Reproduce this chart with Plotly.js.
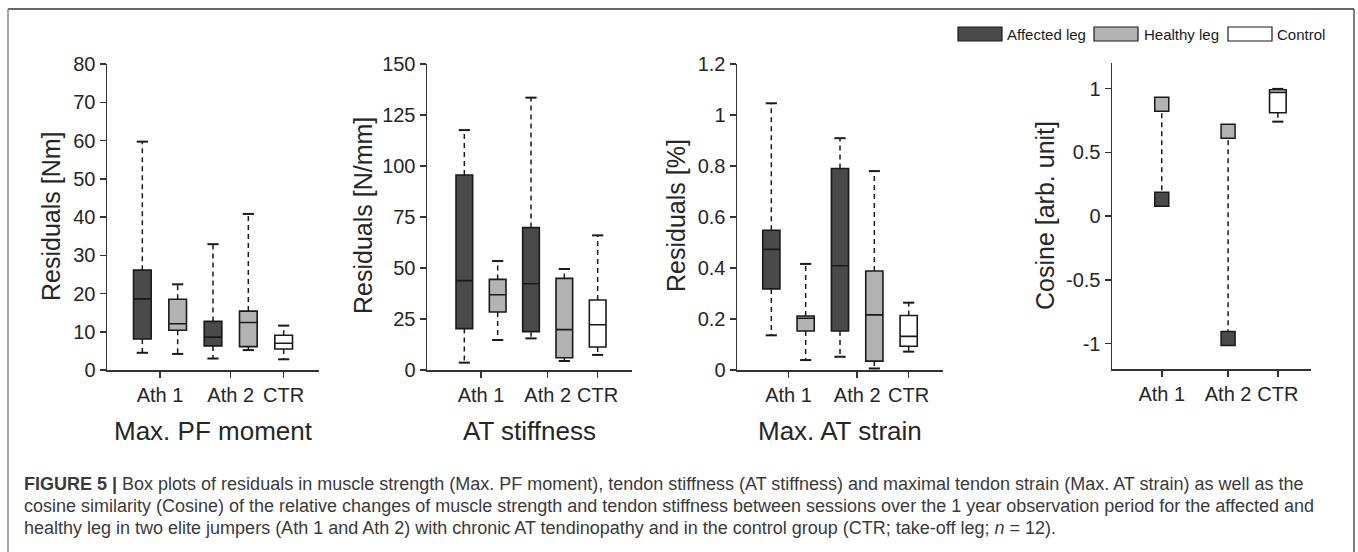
<!DOCTYPE html>
<html>
<head>
<meta charset="utf-8">
<script src="https://cdn.plot.ly/plotly-3.0.1.min.js"></script>
<style>
  html, body { margin: 0; padding: 0; background: #ffffff; }
  #chart { width: 1358px; height: 552px; }
</style>
</head>
<body>
<div id="chart"></div>
<script>
// ---------------- DATA ----------------
// order of boxes: Ath 1 affected, Ath 1 healthy, Ath 2 affected, Ath 2 healthy, CTR
const boxGroups = ['Affected leg', 'Healthy leg', 'Affected leg', 'Healthy leg', 'Control'];
const tickLabels = ['Ath 1', 'Ath 2', 'CTR'];

// Max. PF moment residuals [Nm]
const pfLow  = [4.5, 4.2, 3.0, 5.2, 2.8];
const pfQ1   = [8.1, 10.4, 6.3, 6.1, 5.5];
const pfMed  = [18.6, 12.1, 8.6, 12.4, 7.0];
const pfQ3   = [26.1, 18.5, 12.7, 15.4, 9.1];
const pfHigh = [59.7, 22.4, 32.9, 40.8, 11.6];

// AT stiffness residuals [N/mm]
const stLow  = [3.6, 14.7, 15.5, 4.4, 7.4];
const stQ1   = [20.3, 28.4, 18.8, 6.0, 11.3];
const stMed  = [43.8, 36.9, 42.3, 19.8, 22.2];
const stQ3   = [95.6, 44.4, 69.8, 44.9, 34.3];
const stHigh = [117.6, 53.4, 133.5, 49.5, 66.0];

// Max. AT strain residuals [%]
const snLow  = [0.136, 0.039, 0.052, 0.006, 0.072];
const snQ1   = [0.318, 0.153, 0.153, 0.035, 0.093];
const snMed  = [0.473, 0.203, 0.409, 0.216, 0.132];
const snQ3   = [0.548, 0.212, 0.790, 0.388, 0.214];
const snHigh = [1.046, 0.416, 0.909, 0.780, 0.264];

// Cosine similarity [arb. unit]
const cosAthletes = ['Ath 1', 'Ath 2'];
const cosAffected = [0.131, -0.961];
const cosHealthy  = [0.877, 0.665];
const cosCtrLow  = [0.74];
const cosCtrQ1   = [0.81];
const cosCtrMed  = [0.97];
const cosCtrQ3   = [0.99];
const cosCtrHigh = [0.997];

const panelTitles = ['Max. PF moment', 'AT stiffness', 'Max. AT strain'];
const yTitles = ['Residuals [Nm]', 'Residuals [N/mm]', 'Residuals [%]', 'Cosine [arb. unit]'];
const legendNames = ['Affected leg', 'Healthy leg', 'Control'];

// ---------------- STYLE ----------------
const W = 1358, H = 552;
const FONT = 'Liberation Sans, Arial, Helvetica, sans-serif';
const groupFill = {'Affected leg': '#4a4a4a', 'Healthy leg': '#b3b3b3', 'Control': '#ffffff'};
const INK = '#1a1a1a';
const AX = '#333333';
const px = v => v / W;
const py = v => 1 - v / H;

const boxPos = boxGroups.map((g, i) => i + 1);
const tickPos = [(boxPos[0] + boxPos[1]) / 2, (boxPos[2] + boxPos[3]) / 2, boxPos[4]];

const panels = [
  {low: pfLow, q1: pfQ1, med: pfMed, q3: pfQ3, high: pfHigh, xd: [107, 319], xr: [0, 6], yr: [0, 80], dtick: 10},
  {low: stLow, q1: stQ1, med: stMed, q3: stQ3, high: stHigh, xd: [427, 632], xr: [-0.12, 6.03], yr: [0, 150], dtick: 25},
  {low: snLow, q1: snQ1, med: snMed, q3: snQ3, high: snHigh, xd: [737, 943], xr: [0, 6], yr: [0, 1.2], dtick: 0.2}
];
const yTop = 64, yBot = 370;

const traces = [];
const layout = {
  width: W, height: H,
  margin: {l: 0, r: 0, t: 0, b: 0, pad: 0},
  paper_bgcolor: '#ffffff', plot_bgcolor: 'rgba(0,0,0,0)',
  showlegend: false,
  font: {family: FONT, color: '#262626'},
  annotations: [], shapes: []
};

function axisCommon() {
  return {
    showline: true, linecolor: AX, linewidth: 1.5,
    ticks: 'outside', ticklen: 6, tickwidth: 1.5, tickcolor: AX,
    showgrid: false, zeroline: false, fixedrange: true,
    tickfont: {family: FONT, size: 20, color: '#262626'}
  };
}

function addWhiskers(xs, low, q1, q3, high, xa, ya) {
  const wx = [], wy = [];
  xs.forEach((x, i) => {
    wx.push(x, x, null, x, x, null);
    wy.push(q3[i], high[i], null, q1[i], low[i], null);
  });
  traces.push({type: 'scatter', mode: 'lines', x: wx, y: wy, xaxis: xa, yaxis: ya,
    line: {color: INK, width: 1.5, dash: '5px,4px'}, hoverinfo: 'skip'});
  const cx = [], cy = [];
  xs.forEach((x, i) => { cx.push(x, x); cy.push(high[i], low[i]); });
  traces.push({type: 'scatter', mode: 'markers', x: cx, y: cy, xaxis: xa, yaxis: ya,
    marker: {symbol: 'line-ew', size: 8, line: {color: INK, width: 2}}, hoverinfo: 'skip'});
}

function addBoxes(xs, q1, med, q3, fill, xa, ya) {
  traces.push({type: 'box', x: xs, q1: q1, median: med, q3: q3,
    lowerfence: q1, upperfence: q3, width: 0.5, whiskerwidth: 0,
    xaxis: xa, yaxis: ya, fillcolor: fill, line: {color: INK, width: 1.6},
    boxpoints: false, hoverinfo: 'skip'});
}

panels.forEach((p, k) => {
  const n = k + 1;
  const xa = 'x' + (n === 1 ? '' : n), ya = 'y' + (n === 1 ? '' : n);
  addWhiskers(boxPos, p.low, p.q1, p.q3, p.high, xa, ya);
  legendNames.forEach(g => {
    const idx = boxGroups.map((b, i) => b === g ? i : -1).filter(i => i >= 0);
    addBoxes(idx.map(i => boxPos[i]), idx.map(i => p.q1[i]), idx.map(i => p.med[i]),
             idx.map(i => p.q3[i]), groupFill[g], xa, ya);
  });
  const xk = 'xaxis' + (n === 1 ? '' : n), yk = 'yaxis' + (n === 1 ? '' : n);
  layout[xk] = Object.assign(axisCommon(), {
    domain: [px(p.xd[0]), px(p.xd[1])], range: p.xr, anchor: ya,
    tickmode: 'array', tickvals: tickPos, ticktext: tickLabels
  });
  layout[yk] = Object.assign(axisCommon(), {
    domain: [py(yBot), py(yTop)], range: p.yr, anchor: xa, dtick: p.dtick, tick0: 0
  });
});

// Cosine panel
(function () {
  const xa = 'x4', ya = 'y4';
  const athX = [tickPos[0], tickPos[1]];
  const lx = [], ly = [];
  cosAthletes.forEach((a, i) => { lx.push(athX[i], athX[i], null); ly.push(cosHealthy[i], cosAffected[i], null); });
  traces.push({type: 'scatter', mode: 'lines', x: lx, y: ly, xaxis: xa, yaxis: ya,
    line: {color: INK, width: 1.5, dash: '5px,4px'}, hoverinfo: 'skip'});
  traces.push({type: 'scatter', mode: 'markers', x: athX, y: cosHealthy, xaxis: xa, yaxis: ya,
    marker: {symbol: 'square', size: 14, color: groupFill['Healthy leg'], line: {color: INK, width: 1.5}}, hoverinfo: 'skip'});
  traces.push({type: 'scatter', mode: 'markers', x: athX, y: cosAffected, xaxis: xa, yaxis: ya,
    marker: {symbol: 'square', size: 14, color: groupFill['Affected leg'], line: {color: INK, width: 1.5}}, hoverinfo: 'skip'});
  addWhiskers([tickPos[2]], cosCtrLow, cosCtrQ1, cosCtrQ3, cosCtrHigh, xa, ya);
  addBoxes([tickPos[2]], cosCtrQ1, cosCtrMed, cosCtrQ3, groupFill['Control'], xa, ya);
  layout.xaxis4 = Object.assign(axisCommon(), {
    domain: [px(1112), px(1311)], range: [0, 6], anchor: ya,
    tickmode: 'array', tickvals: tickPos, ticktext: tickLabels
  });
  const cv = [-1, -0.5, 0, 0.5, 1];
  layout.yaxis4 = Object.assign(axisCommon(), {
    domain: [py(369), py(63)], range: [-1.2, 1.2], anchor: xa,
    tickmode: 'array', tickvals: cv, ticktext: cv.map(v => String(v).replace('\u2212', '-'))
  });
})();

// Axis titles (y, rotated) and panel titles (x)
const yTitleX = [51, 363, 676, 1045];
yTitles.forEach((t, i) => {
  layout.annotations.push({text: t, xref: 'paper', yref: 'paper', x: px(yTitleX[i]), y: py(216),
    xanchor: 'center', yanchor: 'middle', textangle: -90, showarrow: false,
    font: {family: FONT, size: 25, color: '#262626'}});
});
panelTitles.forEach((t, i) => {
  const c = (panels[i].xd[0] + panels[i].xd[1]) / 2;
  layout.annotations.push({text: t, xref: 'paper', yref: 'paper', x: px(c), y: py(431),
    xanchor: 'center', yanchor: 'middle', showarrow: false,
    font: {family: FONT, size: 26, color: '#262626'}});
});

// Legend (drawn manually, wide swatches)
const legSw = [958, 1094, 1228];
const legTx = [1005, 1142, 1275];
legendNames.forEach((g, i) => {
  layout.shapes.push({type: 'rect', xref: 'paper', yref: 'paper',
    x0: px(legSw[i]), x1: px(legSw[i] + 44), y0: py(41), y1: py(27),
    fillcolor: groupFill[g], line: {color: INK, width: 1.2}});
  layout.annotations.push({text: g, xref: 'paper', yref: 'paper', x: px(legTx[i]), y: py(34),
    xanchor: 'left', yanchor: 'middle', showarrow: false,
    font: {family: FONT, size: 15, color: '#1a1a1a'}});
});

// Outer frame
layout.shapes.push({type: 'line', xref: 'paper', yref: 'paper', x0: px(8), x1: px(1354), y0: py(9), y1: py(9), line: {color: '#333', width: 1.3}});
layout.shapes.push({type: 'line', xref: 'paper', yref: 'paper', x0: px(8), x1: px(8), y0: py(9), y1: py(560), line: {color: '#8a8a8a', width: 1.5}});
layout.shapes.push({type: 'line', xref: 'paper', yref: 'paper', x0: px(1354), x1: px(1354), y0: py(9), y1: py(560), line: {color: '#555', width: 1.5}});

// Caption
const captionLines = [
  '<b>FIGURE 5 |</b> Box plots of residuals in muscle strength (Max. PF moment), tendon stiffness (AT stiffness) and maximal tendon strain (Max. AT strain) as well as the',
  'cosine similarity (Cosine) of the relative changes of muscle strength and tendon stiffness between sessions over the 1 year observation period for the affected and',
  'healthy leg in two elite jumpers (Ath 1 and Ath 2) with chronic AT tendinopathy and in the control group (CTR; take-off leg; <i>n</i> = 12).'
];
const captionY = [484, 506, 528];
captionLines.forEach((t, i) => {
  layout.annotations.push({text: t, xref: 'paper', yref: 'paper', x: px(22), y: py(captionY[i]),
    xanchor: 'left', yanchor: 'middle', showarrow: false, align: 'left',
    font: {family: FONT, size: 18, color: '#3a3a3a'}});
});

Plotly.newPlot('chart', traces, layout, {staticPlot: true, displayModeBar: false});
</script>
</body>
</html>
